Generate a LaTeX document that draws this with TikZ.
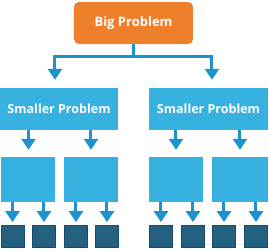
\documentclass[tikz,border=0pt]{standalone}
\usepackage{fontspec}
\setmainfont{Open Sans}
\usetikzlibrary{positioning, arrows.meta}
\definecolor{bigorange}{HTML}{EE7F2B}
\definecolor{boxblue}{HTML}{36B1E0}
\definecolor{arrowblue}{HTML}{1D93CD}
\definecolor{leafblue}{HTML}{246080}
\definecolor{leafedge}{HTML}{1A4B69}

\begin{document}
\begin{tikzpicture}[
    x=1pt, y=-1pt,
    big/.style={rectangle, rounded corners=5pt, fill=bigorange, minimum width=119pt, minimum height=42pt, text=white, font=\bfseries\fontsize{13}{15}\selectfont},
    part/.style={rectangle, fill=boxblue, minimum width=118pt, minimum height=42pt, text=white, font=\bfseries\fontsize{12.5}{15}\selectfont},
    sub/.style={rectangle, fill=boxblue, minimum width=54pt, minimum height=45pt},
    leaf/.style={rectangle, fill=leafblue, draw=leafedge, line width=0.8pt, minimum width=23pt, minimum height=22pt},
    arr/.style={-{Triangle[width=14pt, length=11pt]}, line width=3pt, arrowblue}
]
    \useasboundingbox (0,0) rectangle (269,250);

    % Top problem
    \node[big] (bigp) at (133.5,23) {Big Problem};

    % Smaller problems
    \node[part] (smallL) at (59,109) {Smaller Problem};
    \node[part, minimum width=119pt] (smallR) at (208.5,109) {Smaller Problem};

    % Sub problems
    \node[sub] (subA) at (28.5,179.5) {};
    \node[sub] (subB) at (91,179.5) {};
    \node[sub] (subC) at (176,179.5) {};
    \node[sub, minimum width=56pt] (subD) at (240,179.5) {};

    % Leaves
    \node[leaf] (leafA) at (12.5,236.5) {};
    \node[leaf] (leafB) at (44,236.5) {};
    \node[leaf] (leafC) at (76,236.5) {};
    \node[leaf] (leafD) at (107,236.5) {};
    \node[leaf] (leafE) at (161,236.5) {};
    \node[leaf] (leafF) at (193,236.5) {};
    \node[leaf] (leafG) at (224,236.5) {};
    \node[leaf] (leafH) at (256,236.5) {};

    % Branch from the big problem
    \coordinate (split) at (133.5,56);
    \draw[line width=3pt, arrowblue] (bigp.south) -- (split);
    \draw[arr, shorten >=8pt] (split) -| ([xshift=-4pt]smallL.north);
    \draw[arr, shorten >=8pt] (split) -| ([xshift=3.5pt]smallR.north);

    % Smaller problems to sub problems
    \draw[arr, shorten >=7pt] (smallL.south -| subA) -- (subA.north);
    \draw[arr, shorten >=7pt] (smallL.south -| subB) -- (subB.north);
    \draw[arr, shorten >=7pt] (smallR.south -| subC) -- (subC.north);
    \draw[arr, shorten >=7pt] (smallR.south -| subD) -- (subD.north);

    % Sub problems to leaves
    \draw[arr, shorten >=3pt] (subA.south -| leafA) -- (leafA.north);
    \draw[arr, shorten >=3pt] (subA.south -| leafB) -- (leafB.north);
    \draw[arr, shorten >=3pt] (subB.south -| leafC) -- (leafC.north);
    \draw[arr, shorten >=3pt] (subB.south -| leafD) -- (leafD.north);
    \draw[arr, shorten >=3pt] (subC.south -| leafE) -- (leafE.north);
    \draw[arr, shorten >=3pt] (subC.south -| leafF) -- (leafF.north);
    \draw[arr, shorten >=3pt] (subD.south -| leafG) -- (leafG.north);
    \draw[arr, shorten >=3pt] (subD.south -| leafH) -- (leafH.north);
\end{tikzpicture}
\end{document}
